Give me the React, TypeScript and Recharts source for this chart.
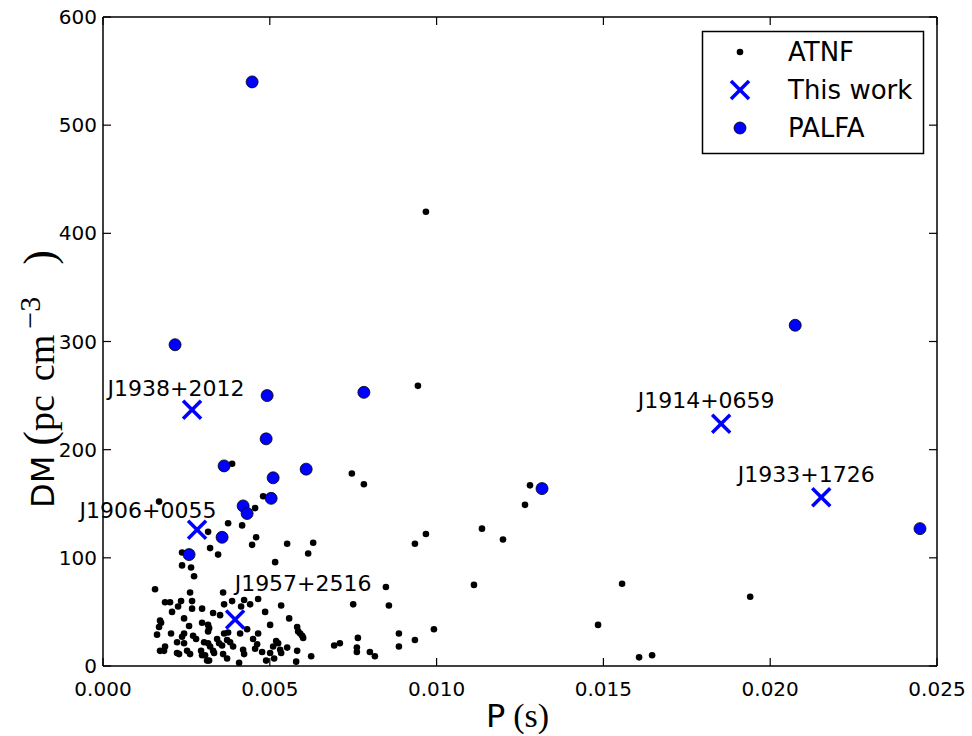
import React from "react";
import { ScatterChart, Scatter, XAxis, YAxis, LabelList } from "recharts";

const SANS = '"DejaVu Sans", sans-serif';
const SERIF = '"Liberation Serif", serif';

const X_TICKS = [0, 0.005, 0.01, 0.015, 0.02, 0.025];
const Y_TICKS = [0, 100, 200, 300, 400, 500, 600];

// ATNF millisecond pulsars
const ATNF = [
  { p: 0.00968, dm: 420 }, { p: 0.00944, dm: 259 }, { p: 0.00746, dm: 178 }, { p: 0.00782, dm: 168 },
  { p: 0.0128, dm: 167 }, { p: 0.01265, dm: 149 }, { p: 0.01136, dm: 127 }, { p: 0.01199, dm: 117 },
  { p: 0.00968, dm: 122 }, { p: 0.00935, dm: 113 }, { p: 0.0063, dm: 114 }, { p: 0.00615, dm: 104 },
  { p: 0.00848, dm: 73 }, { p: 0.0075, dm: 57 }, { p: 0.00857, dm: 56 }, { p: 0.01112, dm: 75 },
  { p: 0.01556, dm: 76 }, { p: 0.01484, dm: 38 }, { p: 0.00992, dm: 34 }, { p: 0.00887, dm: 30 },
  { p: 0.00935, dm: 24 }, { p: 0.00887, dm: 18 }, { p: 0.00764, dm: 26 }, { p: 0.00761, dm: 17 },
  { p: 0.008, dm: 13 }, { p: 0.00815, dm: 9 }, { p: 0.00761, dm: 13 }, { p: 0.00693, dm: 19 },
  { p: 0.0071, dm: 21 }, { p: 0.00624, dm: 9 }, { p: 0.01607, dm: 8 }, { p: 0.01646, dm: 10 },
  { p: 0.0194, dm: 64 }, { p: 0.00582, dm: 36 }, { p: 0.00585, dm: 32 }, { p: 0.00591, dm: 30 },
  { p: 0.00597, dm: 28 }, { p: 0.006, dm: 26 }, { p: 0.00582, dm: 14 }, { p: 0.00579, dm: 4 },
  { p: 0.00387, dm: 187 }, { p: 0.0048, dm: 157 }, { p: 0.00456, dm: 146 }, { p: 0.00168, dm: 152 },
  { p: 0.00375, dm: 132 }, { p: 0.00417, dm: 130 }, { p: 0.00315, dm: 124 }, { p: 0.00459, dm: 119 },
  { p: 0.00447, dm: 112 }, { p: 0.00321, dm: 109 }, { p: 0.00345, dm: 103 }, { p: 0.00552, dm: 113 },
  { p: 0.00516, dm: 96 }, { p: 0.00237, dm: 105 }, { p: 0.00237, dm: 93 }, { p: 0.00264, dm: 91 },
  { p: 0.00273, dm: 83 }, { p: 0.00156, dm: 71 }, { p: 0.00261, dm: 68 }, { p: 0.0036, dm: 68 },
  { p: 0.00186, dm: 59 }, { p: 0.00201, dm: 59 }, { p: 0.00234, dm: 60 }, { p: 0.00207, dm: 50 },
  { p: 0.00225, dm: 55 }, { p: 0.00267, dm: 60 }, { p: 0.00267, dm: 53 }, { p: 0.00297, dm: 53 },
  { p: 0.0033, dm: 49 }, { p: 0.00363, dm: 57 }, { p: 0.00387, dm: 60 }, { p: 0.00423, dm: 61 },
  { p: 0.00414, dm: 55 }, { p: 0.00441, dm: 57 }, { p: 0.00465, dm: 62 }, { p: 0.00534, dm: 56 },
  { p: 0.00486, dm: 50 }, { p: 0.00558, dm: 44 }, { p: 0.00501, dm: 38 }, { p: 0.00351, dm: 47 },
  { p: 0.00171, dm: 42 }, { p: 0.00174, dm: 40 }, { p: 0.00168, dm: 36 }, { p: 0.00243, dm: 44 },
  { p: 0.00258, dm: 37 }, { p: 0.00297, dm: 40 }, { p: 0.00315, dm: 38 }, { p: 0.00318, dm: 35 },
  { p: 0.00315, dm: 32 }, { p: 0.00162, dm: 29 }, { p: 0.00204, dm: 30 }, { p: 0.00243, dm: 30 },
  { p: 0.00237, dm: 27 }, { p: 0.0027, dm: 28 }, { p: 0.00279, dm: 25 }, { p: 0.00303, dm: 22 },
  { p: 0.00315, dm: 21 }, { p: 0.00222, dm: 22 }, { p: 0.00186, dm: 18 }, { p: 0.00171, dm: 14 },
  { p: 0.00183, dm: 14 }, { p: 0.00243, dm: 21 }, { p: 0.00252, dm: 14 }, { p: 0.00222, dm: 12 },
  { p: 0.00228, dm: 11 }, { p: 0.00261, dm: 11 }, { p: 0.00294, dm: 14 }, { p: 0.00297, dm: 10 },
  { p: 0.00306, dm: 10 }, { p: 0.0033, dm: 14 }, { p: 0.00312, dm: 5 }, { p: 0.00318, dm: 5 },
  { p: 0.00348, dm: 21 }, { p: 0.00357, dm: 19 }, { p: 0.00363, dm: 30 }, { p: 0.00375, dm: 31 },
  { p: 0.00372, dm: 24 }, { p: 0.00381, dm: 22 }, { p: 0.0036, dm: 11 }, { p: 0.00372, dm: 7 },
  { p: 0.0039, dm: 18 }, { p: 0.00408, dm: 3 }, { p: 0.0042, dm: 15 }, { p: 0.00423, dm: 11 },
  { p: 0.00432, dm: 34 }, { p: 0.00411, dm: 30 }, { p: 0.0045, dm: 25 }, { p: 0.00465, dm: 30 },
  { p: 0.00456, dm: 16 }, { p: 0.00462, dm: 20 }, { p: 0.00477, dm: 13 }, { p: 0.00489, dm: 5 },
  { p: 0.00501, dm: 12 }, { p: 0.00519, dm: 23 }, { p: 0.00525, dm: 21 }, { p: 0.0051, dm: 18 },
  { p: 0.00531, dm: 15 }, { p: 0.00534, dm: 12 }, { p: 0.00513, dm: 7 }, { p: 0.00552, dm: 17 },
  { p: 0.00342, dm: 25 }, { p: 0.00333, dm: 12 }, { p: 0.00321, dm: 18 },
];

const PALFA = [
  { p: 0.00447, dm: 540 }, { p: 0.00216, dm: 297 }, { p: 0.00492, dm: 250 }, { p: 0.00782, dm: 253 },
  { p: 0.00489, dm: 210 }, { p: 0.00363, dm: 185 }, { p: 0.0051, dm: 174 }, { p: 0.00609, dm: 182 },
  { p: 0.0042, dm: 148 }, { p: 0.00432, dm: 141 }, { p: 0.00504, dm: 155 }, { p: 0.00357, dm: 119 },
  { p: 0.00258, dm: 103 }, { p: 0.01316, dm: 164 }, { p: 0.02075, dm: 315 }, { p: 0.02449, dm: 127 },
];

const THIS_WORK = [
  { name: "J1938+2012", p: 0.00267, dm: 237 },
  { name: "J1906+0055", p: 0.00282, dm: 126 },
  { name: "J1957+2516", p: 0.00396, dm: 43 },
  { name: "J1914+0659", p: 0.01853, dm: 224 },
  { name: "J1933+1726", p: 0.02153, dm: 156 },
];

// annotation text offsets (px) from each cross
const LABEL_OFFSET: Record<string, [number, number]> = {
  "J1938+2012": [-16, -14],
  "J1906+0055": [-49, -12],
  "J1957+2516": [68, -28],
  "J1914+0659": [-15, -16],
  "J1933+1726": [-15, -15],
};

const TICK_LEN = 8;

const BottomTick = (props: any) => {
  const { x, y, payload } = props;
  return (
    <g>
      <line x1={x} y1={y} x2={x} y2={y - TICK_LEN} stroke="#000" strokeWidth={1.2} />
      <text x={x} y={y + 30} textAnchor="middle" fontFamily={SANS} fontSize={20} fill="#000">
        {Number(payload.value).toFixed(3)}
      </text>
    </g>
  );
};

const TopTick = (props: any) => {
  const { x, y } = props;
  return <line x1={x} y1={y} x2={x} y2={y + TICK_LEN} stroke="#000" strokeWidth={1.2} />;
};

const LeftTick = (props: any) => {
  const { x, y, payload } = props;
  return (
    <g>
      <line x1={x} y1={y} x2={x + TICK_LEN} y2={y} stroke="#000" strokeWidth={1.2} />
      <text x={x - 6} y={y + 7} textAnchor="end" fontFamily={SANS} fontSize={20} fill="#000">
        {payload.value}
      </text>
    </g>
  );
};

const RightTick = (props: any) => {
  const { x, y } = props;
  return <line x1={x} y1={y} x2={x - TICK_LEN} y2={y} stroke="#000" strokeWidth={1.2} />;
};

const Dot = (props: any) => <circle cx={props.cx} cy={props.cy} r={3.3} fill="#000" />;

const BlueCircle = (props: any) => (
  <circle cx={props.cx} cy={props.cy} r={6} fill="#0000ff" stroke="#000" strokeWidth={0.8} />
);

const Cross = (props: any) => {
  const { cx, cy } = props;
  const s = 9;
  return (
    <g stroke="#0000ff" strokeWidth={3.5}>
      <line x1={cx - s} y1={cy - s} x2={cx + s} y2={cy + s} />
      <line x1={cx - s} y1={cy + s} x2={cx + s} y2={cy - s} />
    </g>
  );
};

const NameLabel = (props: any) => {
  const { x, y, width, height, value } = props;
  const cx = x + (width || 0) / 2;
  const cy = y + (height || 0) / 2;
  const [dx, dy] = LABEL_OFFSET[value] || [0, -14];
  return (
    <text x={cx + dx} y={cy + dy} textAnchor="middle" fontFamily={SANS} fontSize={22} fill="#000">
      {value}
    </text>
  );
};

const axisLine = { stroke: "#000", strokeWidth: 1.5 };

function LegendBox() {
  const mx = 740;
  const tx = 788;
  return (
    <svg width={972} height={736} style={{ position: "absolute", left: 0, top: 0, pointerEvents: "none" }}>
      <rect x={702.5} y={31.5} width={221} height={122} fill="#fff" stroke="#000" strokeWidth={1.5} />
      <circle cx={mx} cy={52} r={3.3} fill="#000" />
      <text x={tx} y={61} fontFamily={SANS} fontSize={26} fill="#000">ATNF</text>
      <g stroke="#0000ff" strokeWidth={3.5}>
        <line x1={mx - 9} y1={81} x2={mx + 9} y2={99} />
        <line x1={mx - 9} y1={99} x2={mx + 9} y2={81} />
      </g>
      <text x={tx} y={99} fontFamily={SANS} fontSize={26} fill="#000">This work</text>
      <circle cx={mx} cy={128} r={6} fill="#0000ff" stroke="#000" strokeWidth={0.8} />
      <text x={tx} y={137} fontFamily={SANS} fontSize={26} fill="#000">PALFA</text>
    </svg>
  );
}

export default function App() {
  return (
    <div style={{ position: "absolute", left: 0, top: 0, width: 972, height: 736, background: "#fff" }}>
      <ScatterChart width={972} height={736} margin={{ top: 16, right: 34, bottom: 0, left: 0 }}>
        <XAxis
          xAxisId="bottom"
          type="number"
          dataKey="p"
          domain={[0, 0.025]}
          ticks={X_TICKS}
          interval={0}
          allowDataOverflow
          height={70}
          tickSize={0}
          tickMargin={0}
          tickLine={false}
          axisLine={axisLine}
          tick={BottomTick}
        />
        <XAxis
          xAxisId="top"
          orientation="top"
          type="number"
          dataKey="p"
          domain={[0, 0.025]}
          ticks={X_TICKS}
          interval={0}
          allowDataOverflow
          height={1}
          tickSize={0}
          tickMargin={0}
          tickLine={false}
          axisLine={axisLine}
          tick={TopTick}
        />
        <YAxis
          yAxisId="left"
          type="number"
          dataKey="dm"
          domain={[0, 600]}
          ticks={Y_TICKS}
          interval={0}
          allowDataOverflow
          width={103}
          tickSize={0}
          tickMargin={0}
          tickLine={false}
          axisLine={axisLine}
          tick={LeftTick}
        />
        <YAxis
          yAxisId="right"
          orientation="right"
          type="number"
          dataKey="dm"
          domain={[0, 600]}
          ticks={Y_TICKS}
          interval={0}
          allowDataOverflow
          width={1}
          tickSize={0}
          tickMargin={0}
          tickLine={false}
          axisLine={axisLine}
          tick={RightTick}
        />
        <Scatter name="ATNF" data={ATNF} xAxisId="bottom" yAxisId="left" shape={Dot} isAnimationActive={false} />
        <Scatter name="This work" data={THIS_WORK} xAxisId="bottom" yAxisId="left" shape={Cross} isAnimationActive={false}>
          <LabelList dataKey="name" content={NameLabel} />
        </Scatter>
        <Scatter name="PALFA" data={PALFA} xAxisId="bottom" yAxisId="left" shape={BlueCircle} isAnimationActive={false} />
        {/* tie the mirror axes to an empty series so they always draw */}
        <Scatter data={[]} xAxisId="top" yAxisId="right" isAnimationActive={false} />
        <text x={486} y={727} textAnchor="start" fill="#000">
          <tspan fontFamily={SANS} fontSize={32}>P</tspan>
          <tspan fontFamily={SERIF} fontSize={34} dx={8}>(s)</tspan>
        </text>
        <text x={54} y={508} transform="rotate(-90 54 508)" textAnchor="start" fill="#000">
          <tspan fontFamily={SANS} fontSize={32}>DM</tspan>
          <tspan fontFamily={SERIF} fontSize={44} dx={10}>(</tspan>
          <tspan fontFamily={SERIF} fontSize={38}>pc</tspan>
          <tspan fontFamily={SERIF} fontSize={38} dx={14}>cm</tspan>
          <tspan fontFamily={SERIF} fontSize={30} dy={-14} dx={6}>−3</tspan>
          <tspan fontFamily={SERIF} fontSize={44} dy={14} dx={32}>)</tspan>
        </text>
      </ScatterChart>
      <LegendBox />
    </div>
  );
}
